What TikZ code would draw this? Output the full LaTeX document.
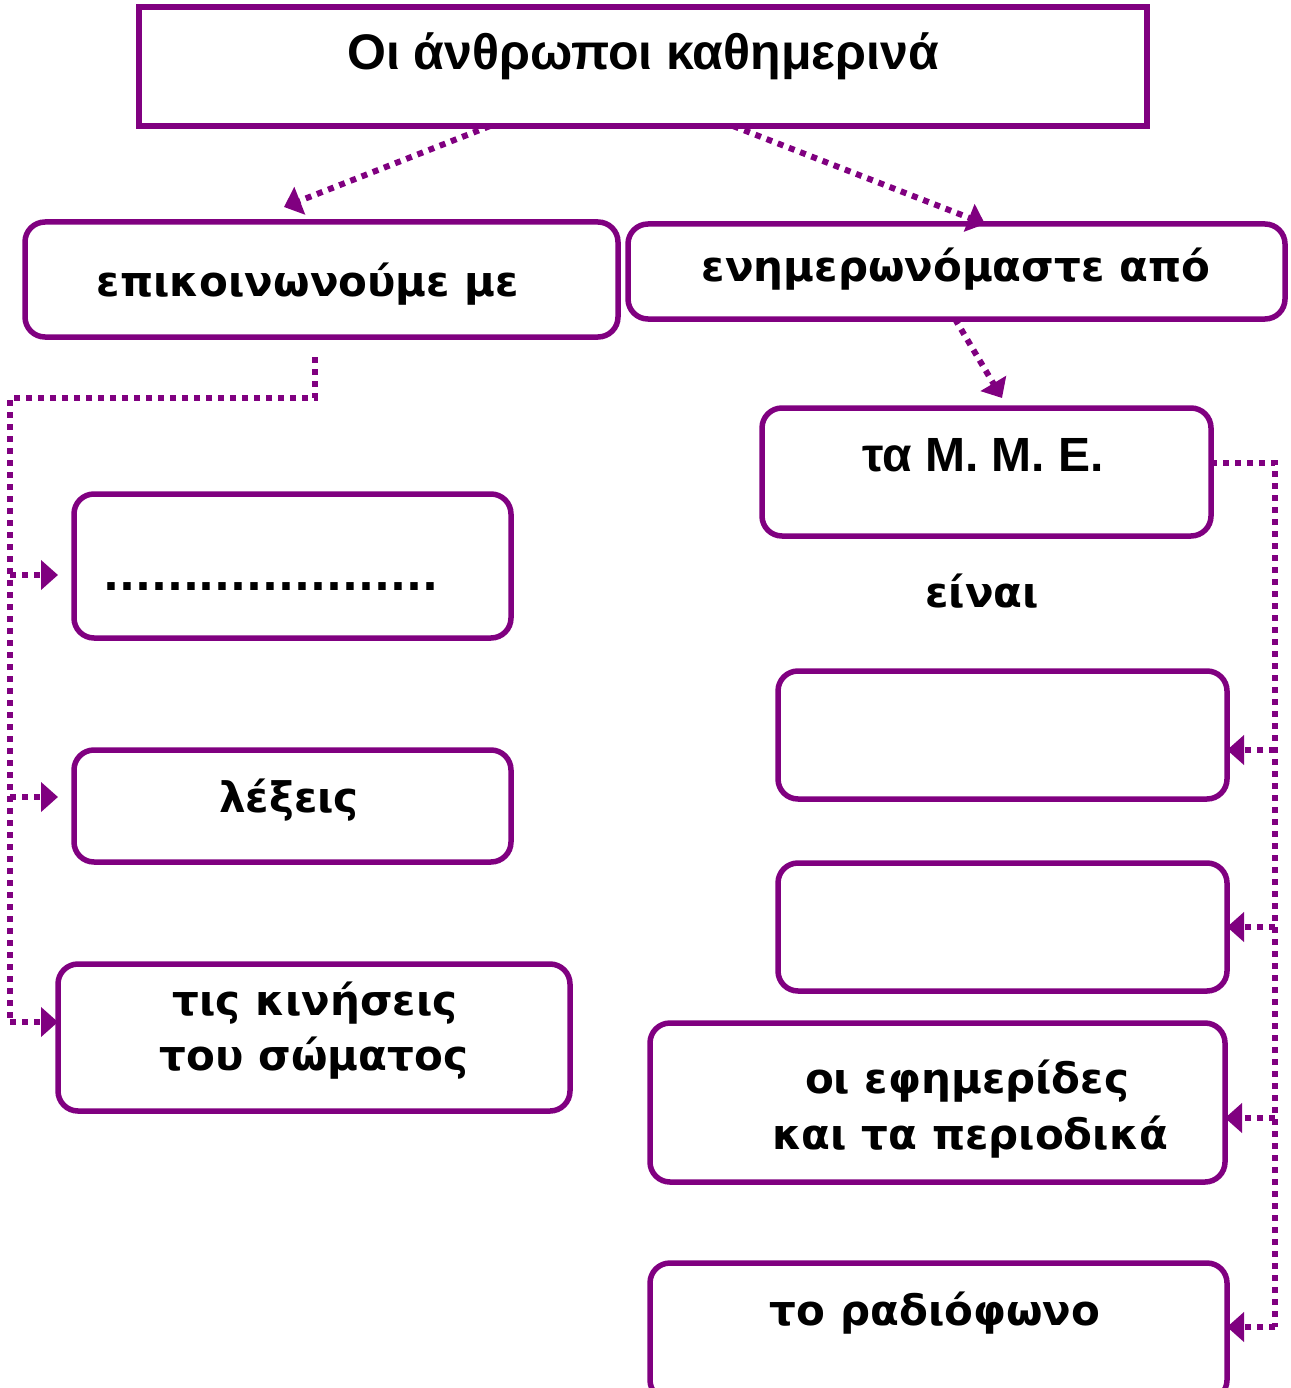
\documentclass[tikz,border=0pt]{standalone}
\usepackage{fontspec}
\setmainfont{DejaVu Sans}
\newfontfamily\lib{Liberation Sans}
\usetikzlibrary{arrows.meta,fit}
\definecolor{pur}{RGB}{128,0,128}
\tikzset{
  box/.style={draw=pur, line width=5.5pt, rounded corners=20pt, inner sep=0pt, outer sep=0pt},
  sharpbox/.style={draw=pur, line width=5.5pt, inner sep=0pt, outer sep=0pt},
  conn/.style={draw=pur, line width=6pt, dash pattern=on 6pt off 6pt},
  tip/.style={-{Triangle[length=17pt,width=29pt]}},
  txt/.style={inner sep=0pt, anchor=base, font=\bfseries\fontsize{42}{50}\selectfont},
  ltxt/.style={inner sep=0pt, anchor=base, font=\lib\bfseries\fontsize{48}{56}\selectfont},
  ttxt/.style={inner sep=0pt, anchor=base, font=\lib\bfseries\fontsize{50}{58}\selectfont},
}
\begin{document}
\begin{tikzpicture}[x=1pt,y=-1pt]
\useasboundingbox (0,0) rectangle (1290,1388);
% boxes
\node[sharpbox, fit={(139,7) (1147,126)}] (top) {};
\node[box, fit={(25,222) (618,337)}] (comm) {};
\node[box, fit={(628,224) (1285,319)}] (info) {};
\node[box, fit={(762,408) (1211,536)}] (mme) {};
\node[box, fit={(778,671) (1227,799)}] (e1) {};
\node[box, fit={(778,863) (1227,991)}] (e2) {};
\node[box, fit={(650,1023) (1225,1182)}] (news) {};
\node[box, fit={(650,1263) (1227,1400)}] (radio) {};
\node[box, fit={(74,494) (511,638)}] (blank) {};
\node[box, fit={(74,750) (511,862)}] (words) {};
\node[box, fit={(58,964) (570,1111)}] (moves) {};
% texts
\node[ttxt] (ttop) at (643,70) {Οι άνθρωποι καθημερινά};
\node[txt] (tcomm) at (308,296) {επικοινωνούμε με};
\node[txt] (tinfo) at (956,281) {ενημερωνόμαστε από};
\node[ltxt] (tmme) at (983,471) {τα Μ. Μ. Ε.};
\node[txt] (tare) at (982,607) {είναι};
\node[txt, anchor=base west] (tdots) at (103,590) {.....................};
\node[txt] (twords) at (289,812) {λέξεις};
\node[txt] (tm1) at (315,1015) {τις κινήσεις};
\node[txt] (tm2) at (314,1070) {του σώματος};
\node[txt] (tn1) at (967,1093) {οι εφημερίδες};
\node[txt] (tn2) at (970,1149) {και τα περιοδικά};
\node[txt] (tr) at (935,1325) {το ραδιόφωνο};
% connectors top
\coordinate (a1end) at (284,207);
\coordinate (a3end) at (1002,398);
\draw[conn, tip] (top.south -| 490,0) -- (a1end);
\draw[conn, tip] (top.south -| 733,0) -- (info.north -| 985,0);
\draw[conn, tip] (info.south -| 955,0) -- (a3end);
% left tree
\coordinate (ls) at (315,357);
\coordinate (lc) at (315,398);
\coordinate (ld) at (10,398);
\coordinate (le) at (10,1022);
\draw[conn] (ls) -- (lc) -- (ld) -- (le);
\draw[conn, tip, shorten >=16pt] (10,575) -- (blank.west |- 0,575);
\draw[conn, tip, shorten >=16pt] (10,797) -- (words.west |- 0,797);
\draw[conn, tip] (le) -- (moves.west |- le);
% right tree
\coordinate (rs) at (1275,463);
\coordinate (re) at (1275,1327);
\draw[conn] (mme.east |- rs) -- (rs) -- (re);
\draw[conn, tip] (1275,750) -- (e1.east |- 0,750);
\draw[conn, tip] (1275,927) -- (e2.east |- 0,927);
\draw[conn, tip] (1275,1118) -- (news.east |- 0,1118);
\draw[conn, tip] (re) -- (radio.east |- re);
\end{tikzpicture}
\end{document}
